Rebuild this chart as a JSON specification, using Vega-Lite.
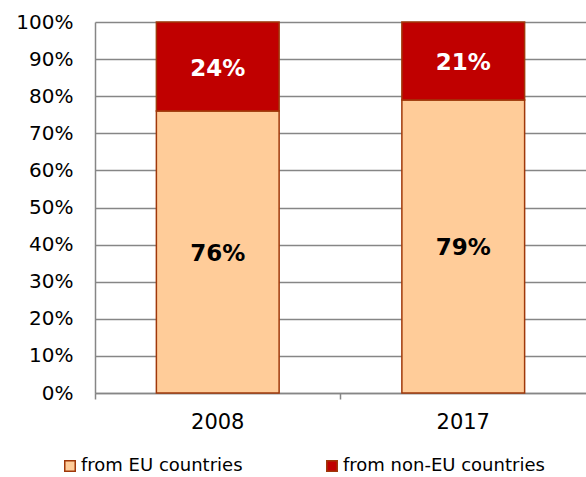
{
  "$schema": "https://vega.github.io/schema/vega-lite/v6.json",
  "width": 491,
  "height": 371,
  "autosize": "none",
  "padding": {"left": 95, "top": 22, "right": 0, "bottom": 84},
  "background": "white",
  "config": {
    "view": {"stroke": null},
    "font": "DejaVu Sans",
    "axisY": {
      "format": ".0%",
      "values": [0, 0.1, 0.2, 0.3, 0.4, 0.5, 0.6, 0.7, 0.8, 0.9, 1],
      "labelOverlap": false,
      "labelFont": "DejaVu Sans",
      "labelFontSize": 20,
      "labelColor": "#000000",
      "labelPadding": 22,
      "ticks": false,
      "domainColor": "#868686",
      "domainWidth": 1.5,
      "gridColor": "#868686",
      "gridWidth": 1.5
    }
  },
  "data": {
    "values": [
      {"year": "2008", "series": "from EU countries", "share": 0.76},
      {"year": "2008", "series": "from non-EU countries", "share": 0.24},
      {"year": "2017", "series": "from EU countries", "share": 0.79},
      {"year": "2017", "series": "from non-EU countries", "share": 0.21}
    ]
  },
  "transform": [
    {"stack": "share", "groupby": ["year"], "sort": [{"field": "series", "order": "ascending"}], "as": ["y0", "y1"]},
    {"calculate": "(datum.y0 + datum.y1) / 2", "as": "ymid"}
  ],
  "encoding": {
    "x": {
      "field": "year",
      "type": "nominal",
      "title": null,
      "scale": {"paddingInner": 0.5, "paddingOuter": 0.25},
      "axis": {
        "labelAngle": 0,
        "labelFont": "DejaVu Sans",
        "labelFontSize": 21,
        "labelColor": "#000000",
        "labelPadding": 12,
        "domainColor": "#868686",
        "domainWidth": 1.5,
        "tickColor": "#868686",
        "tickWidth": 1.5,
        "tickSize": 6,
        "bandPosition": -0.5,
        "grid": false
      }
    }
  },
  "layer": [
    {
      "mark": {"type": "bar", "stroke": "#A0380A", "strokeWidth": 1.5},
      "encoding": {
        "y": {
          "field": "y0",
          "type": "quantitative",
          "title": null,
          "scale": {"domain": [0, 1]},
          "axis": {
            "format": ".0%",
            "values": [0, 0.1, 0.2, 0.3, 0.4, 0.5, 0.6, 0.7, 0.8, 0.9, 1],
            "labelOverlap": false
          }
        },
        "y2": {"field": "y1"},
        "color": {
          "field": "series",
          "type": "nominal",
          "scale": {"domain": ["from EU countries", "from non-EU countries"], "range": ["#FFCC99", "#C00000"]},
          "legend": {
            "title": null,
            "orient": "none",
            "direction": "horizontal",
            "legendX": -34,
            "legendY": 435,
            "symbolType": "square",
            "symbolSize": 110,
            "symbolStrokeColor": "#A0380A",
            "symbolStrokeWidth": 1.5,
            "labelFont": "DejaVu Sans",
            "labelFontSize": 18,
            "labelColor": "#000000",
            "labelOffset": 2,
            "labelLimit": 400,
            "columnPadding": 80
          }
        }
      }
    },
    {
      "mark": {"type": "text", "font": "DejaVu Sans", "fontSize": 23, "fontWeight": "bold", "baseline": "middle", "dy": 2},
      "encoding": {
        "y": {
          "field": "ymid",
          "type": "quantitative",
          "title": null,
          "axis": {
            "format": ".0%",
            "values": [0, 0.1, 0.2, 0.3, 0.4, 0.5, 0.6, 0.7, 0.8, 0.9, 1],
            "labelOverlap": false
          }
        },
        "text": {"field": "share", "type": "quantitative", "format": ".0%"},
        "color": {
          "condition": {"test": "datum.series === 'from non-EU countries'", "value": "#ffffff"},
          "value": "#000000"
        }
      }
    }
  ]
}
